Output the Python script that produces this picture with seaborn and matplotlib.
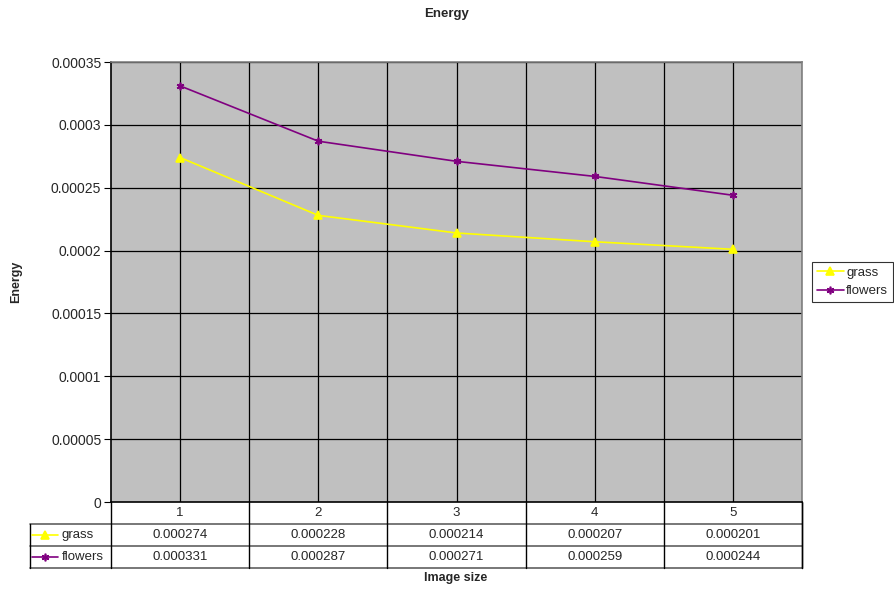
import numpy as np
import pandas as pd
import matplotlib
matplotlib.use("Agg")
import matplotlib.pyplot as plt
from matplotlib.lines import Line2D
import seaborn as sns

sns.set_style("white")
plt.rcParams['font.family'] = ['Liberation Sans', 'DejaVu Sans']

# data
sizes = ["1", "2", "3", "4", "5"]
grass = [0.000274, 0.000228, 0.000214, 0.000207, 0.000201]
flowers = [0.000331, 0.000287, 0.000271, 0.000259, 0.000244]
series_names = ["grass", "flowers"]
series_colors = {"grass": "#FFFF00", "flowers": "#800080"}
series_markers = {"grass": "^", "flowers": (6, 2, 0)}
y_ticks = [0, 0.00005, 0.0001, 0.00015, 0.0002, 0.00025, 0.0003, 0.00035]

df = pd.DataFrame({
    "pos": list(range(len(sizes))) * 2,
    "energy": grass + flowers,
    "series": ["grass"] * len(sizes) + ["flowers"] * len(sizes),
})

W, H = 895, 592
fig = plt.figure(figsize=(W / 100, H / 100), dpi=100)
MS = 5.5

# plot area in pixels
px0, px1, py0, py1 = 111, 802, 62, 502
ax = fig.add_axes([px0 / W, 1 - py1 / H, (px1 - px0) / W, (py1 - py0) / H])
ax.set_facecolor("#C0C0C0")

# one call per series (seaborn won't mix filled and line-art markers)
for name in series_names:
    sub = df[df["series"] == name]
    sns.lineplot(data=sub, x="pos", y="energy", color=series_colors[name],
                 marker=series_markers[name], markersize=MS, linewidth=1.2,
                 markeredgewidth=1.2, markeredgecolor=series_colors[name],
                 ax=ax, zorder=3)

ax.set_xlim(-0.5, len(sizes) - 0.5)
ax.set_ylim(0, 0.00035)
ax.set_yticks(y_ticks)
ax.set_yticklabels([format(v, ".5f").rstrip("0").rstrip(".") for v in y_ticks], fontsize=10)
ax.set_xticks([])
ax.tick_params(axis="y", direction="out", length=5, width=0.8, color="black", pad=2, left=True)
for y in y_ticks[1:]:
    ax.axhline(y, color="black", lw=0.9, zorder=1)
for x in np.arange(0, len(sizes), 0.5):
    ax.axvline(x, color="black", lw=0.9, zorder=1)
ax.set_xlabel("")
ax.set_ylabel("")
for s in ax.spines.values():
    s.set_color("#808080")
    s.set_linewidth(1.2)
ax.spines["bottom"].set_color("black")
ax.spines["left"].set_color("black")

# data table below the plot
tx0, ty0, ty1 = 30, 502, 568
unit = (px1 - px0) / len(sizes)
tax = fig.add_axes([tx0 / W, 1 - ty1 / H, (px1 - tx0) / W, (ty1 - ty0) / H])
tax.set_xlim(-0.5 - (px0 - tx0) / unit, len(sizes) - 0.5)
tax.set_ylim(3, 0)
tax.axis("off")
xl = tax.get_xlim()[0]
xr = len(sizes) - 0.5
for y in [1, 2, 3]:
    tax.plot([xl, xr], [y, y], color="#606060", lw=1.2, clip_on=False)
tax.plot([xl, xl], [1, 3], color="black", lw=1, clip_on=False)
for x in np.arange(-0.5, len(sizes), 1.0):
    tax.plot([x, x], [0, 3], color="black", lw=1, clip_on=False)
tax.plot([xr, xr], [0, 3], color="black", lw=1, clip_on=False)
for i, s in enumerate(sizes):
    tax.text(i, 0.5, s, ha="center", va="center", fontsize=9.5)
for r, (name, vals) in enumerate([("grass", grass), ("flowers", flowers)], start=1):
    for i, v in enumerate(vals):
        tax.text(i, r + 0.5, f"{v:.6f}", ha="center", va="center", fontsize=9.5)
    lx0 = xl + 2 / unit
    lx1 = xl + 28 / unit
    tax.plot([lx0, lx1], [r + 0.5, r + 0.5], color=series_colors[name], lw=1.2, clip_on=False)
    tax.plot([(lx0 + lx1) / 2], [r + 0.5], marker=series_markers[name], color=series_colors[name],
             markersize=MS, markeredgewidth=1.2, clip_on=False)
    tax.text(xl + 32 / unit, r + 0.5, name, ha="left", va="center", fontsize=9.5)

# legend on the right
handles = [Line2D([], [], color=series_colors[n], marker=series_markers[n], markersize=MS,
                  markeredgewidth=1.2, lw=1.2) for n in series_names]
leg = fig.legend(handles, series_names, loc="center left",
                 bbox_to_anchor=(812 / W, 1 - 282 / H), fontsize=9.5, frameon=True,
                 fancybox=False, handlelength=2.1, handletextpad=0.15, borderpad=0.35,
                 borderaxespad=0, labelspacing=0.45)
leg.get_frame().set_edgecolor("black")
leg.get_frame().set_linewidth(0.8)

fig.text(447 / W, 1 - 14 / H, "Energy", ha="center", va="center", fontsize=9.5, fontweight="bold")
fig.text(16 / W, 1 - 282 / H, "Energy", ha="center", va="center", rotation=90, fontsize=9, fontweight="bold")
fig.text(456 / W, 1 - 578 / H, "Image size", ha="center", va="center", fontsize=9, fontweight="bold")

fig.savefig("out.png", dpi=100)
